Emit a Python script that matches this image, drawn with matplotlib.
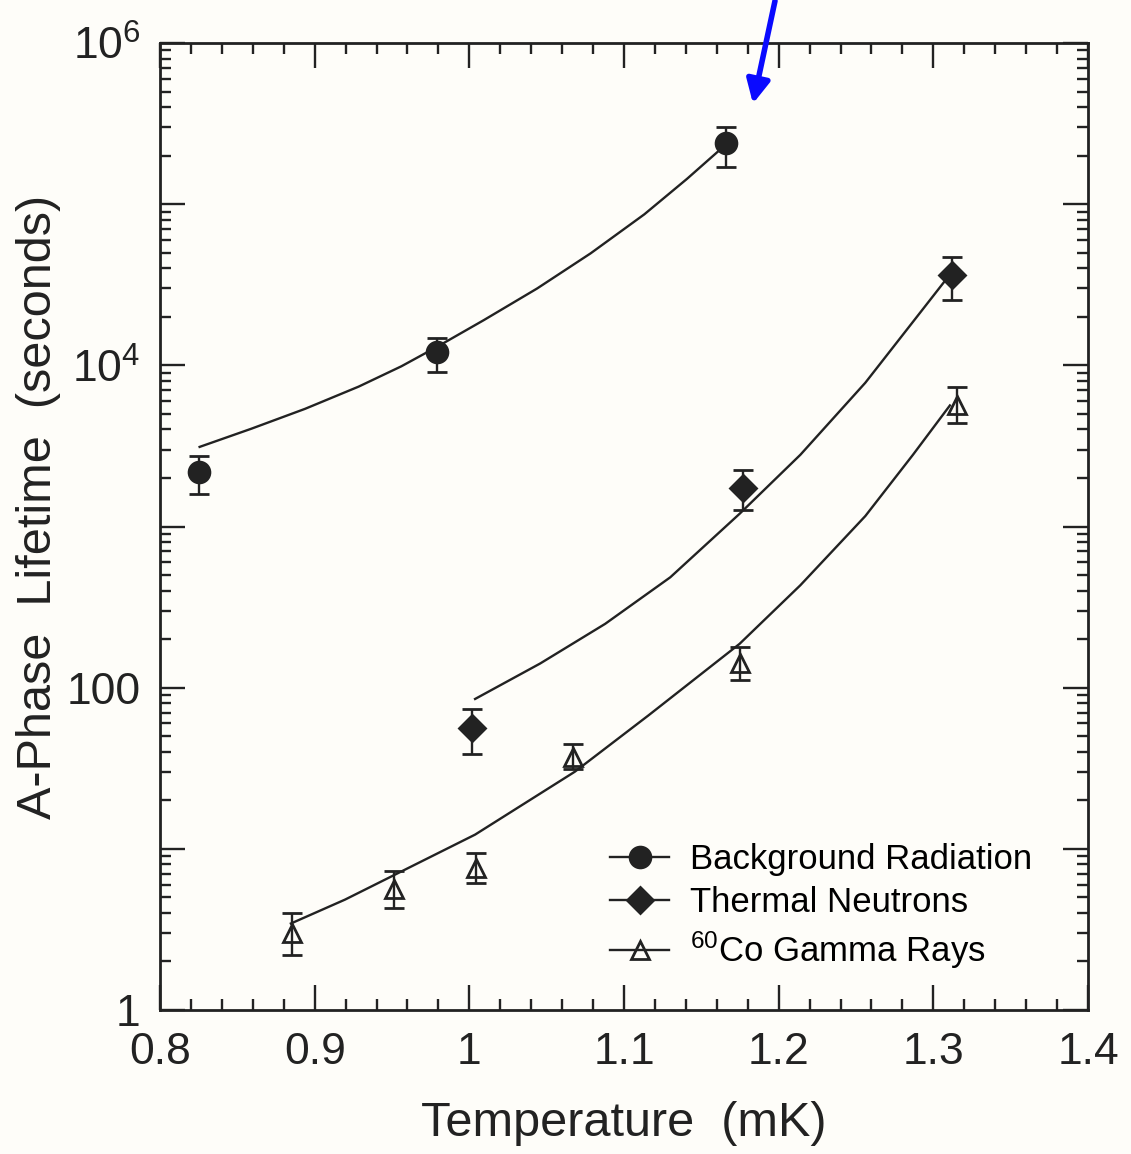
import matplotlib.pyplot as plt
import numpy as np
from matplotlib.ticker import LogLocator, FixedLocator, MultipleLocator, FuncFormatter, NullFormatter

plt.rcParams['font.family'] = ['Liberation Sans', 'DejaVu Sans']
plt.rcParams['mathtext.fontset'] = 'custom'
plt.rcParams['mathtext.rm'] = 'Liberation Sans'

#%% data
# Background radiation (filled circles)
bg_T = [0.825, 0.979, 1.166]
bg_tau = [2175, 12080, 239000]
bg_lo = [1590, 9075, 170400]
bg_hi = [2735, 14750, 301700]
bg_fit_T = [0.8256, 0.8591, 0.8937, 0.9284, 0.9560, 0.9791, 1.0092, 1.0438, 1.0784, 1.1131, 1.1407, 1.1604]
bg_fit_tau = [3119, 4046, 5370, 7379, 9863, 13030, 19050, 29990, 49550, 86500, 143600, 210900]

# Thermal neutrons (filled diamonds)
tn_T = [1.002, 1.177, 1.312]
tn_tau = [56.2, 1722, 36300]
tn_lo = [38.9, 1265, 25400]
tn_hi = [73.3, 2237, 47100]
tn_fit_T = [1.0037, 1.0458, 1.0878, 1.1299, 1.1747, 1.2140, 1.2560, 1.2868, 1.3092]
tn_fit_tau = [85.1, 141.3, 248.9, 484, 1199, 2786, 7798, 18620, 35080]

# 60Co gamma rays (open triangles)
gr_T = [0.885, 0.951, 1.004, 1.067, 1.175, 1.315]
gr_tau = [3.0, 5.65, 7.57, 36.9, 142, 5665]
gr_lo = [2.18, 4.27, 6.13, 31.5, 112, 4413]
gr_hi = [4.02, 7.29, 9.45, 44.4, 180, 7360]
gr_fit_T = [0.8846, 0.9196, 0.9504, 1.0037, 1.0682, 1.1158, 1.1747, 1.2140, 1.2560, 1.2868, 1.3107]
gr_fit_tau = [3.44, 4.84, 6.80, 12.25, 30.1, 67.3, 187, 432, 1161, 2786, 5640]

labels = ['Background Radiation', 'Thermal Neutrons', r'$\mathregular{^{60}}$Co Gamma Rays']

#%% plot
ink = '#222222'
fig = plt.figure(figsize=(11.31, 11.54), dpi=100, facecolor='#fefdf9')
ax = fig.add_axes([0.1415, 0.1248, 0.8205, 0.8379])
ax.set_facecolor('#fefdf9')

series = [
    (bg_T, bg_tau, bg_lo, bg_hi, bg_fit_T, bg_fit_tau, 'o', ink, 15),
    (tn_T, tn_tau, tn_lo, tn_hi, tn_fit_T, tn_fit_tau, 'D', ink, 13),
    (gr_T, gr_tau, gr_lo, gr_hi, gr_fit_T, gr_fit_tau, '^', 'none', 13),
]
handles = []
for T, tau, lo, hi, fT, ftau, mk, fc, ms in series:
    tau = np.array(tau)
    yerr = [tau - np.array(lo), np.array(hi) - tau]
    ax.plot(fT, ftau, color=ink, lw=1.7, solid_joinstyle='round')
    ax.errorbar(T, tau, yerr=yerr, fmt=mk, ms=ms, mfc=fc, mec=ink, mew=2,
                ecolor=ink, elinewidth=1.7, capsize=7, capthick=1.7)
    h, = ax.plot([], [], color=ink, lw=1.7, marker=mk, ms=ms, mfc=fc, mec=ink, mew=2)
    handles.append(h)

ax.set_yscale('log')
ax.set_xlim(0.8, 1.4)
ax.set_ylim(1, 1e6)

ax.xaxis.set_major_locator(MultipleLocator(0.1))
ax.xaxis.set_minor_locator(MultipleLocator(0.02))
ax.xaxis.set_major_formatter(FuncFormatter(lambda v, p: '1' if abs(v - 1) < 1e-6 else f'{v:.1f}'))

ax.yaxis.set_major_locator(FixedLocator([10.0**k for k in range(7)]))
ax.yaxis.set_minor_locator(LogLocator(base=10, subs=np.arange(2, 10), numticks=20))
ax.yaxis.set_minor_formatter(NullFormatter())
ylabs = {0: '1', 2: '100', 4: r'$\mathregular{10^4}$', 6: r'$\mathregular{10^6}$'}
ax.yaxis.set_major_formatter(FuncFormatter(lambda v, p: ylabs.get(int(round(np.log10(v))), '')))

ax.tick_params(which='both', direction='in', top=True, right=True, color=ink, width=1.7)
ax.tick_params(which='major', length=18, labelsize=32, pad=14, labelcolor=ink)
ax.tick_params(which='minor', length=8)
ax.tick_params(axis='x', which='major', pad=16)
for s in ax.spines.values():
    s.set_linewidth(2)
    s.set_color(ink)

ax.set_xlabel('Temperature  (mK)', fontsize=35, labelpad=20, color=ink)
ax.set_ylabel('A-Phase  Lifetime  (seconds)', fontsize=35, color=ink)
ax.yaxis.set_label_coords(-0.107, 0.52)

ax.legend(handles, labels, loc='upper left', bbox_to_anchor=(0.47, 0.187), frameon=False,
          fontsize=25, handlelength=1.7, handletextpad=0.6, labelspacing=0.3,
          borderaxespad=0)

# blue arrow drawn on the scan
ax.annotate('', xy=(1.183, 4.05e5), xytext=(1.198, 1.9e6), annotation_clip=False,
            arrowprops=dict(arrowstyle='-|>,head_length=1.4,head_width=0.7', color='#0a0aff', lw=4))

fig.savefig('out.png', dpi=100, facecolor=fig.get_facecolor())
